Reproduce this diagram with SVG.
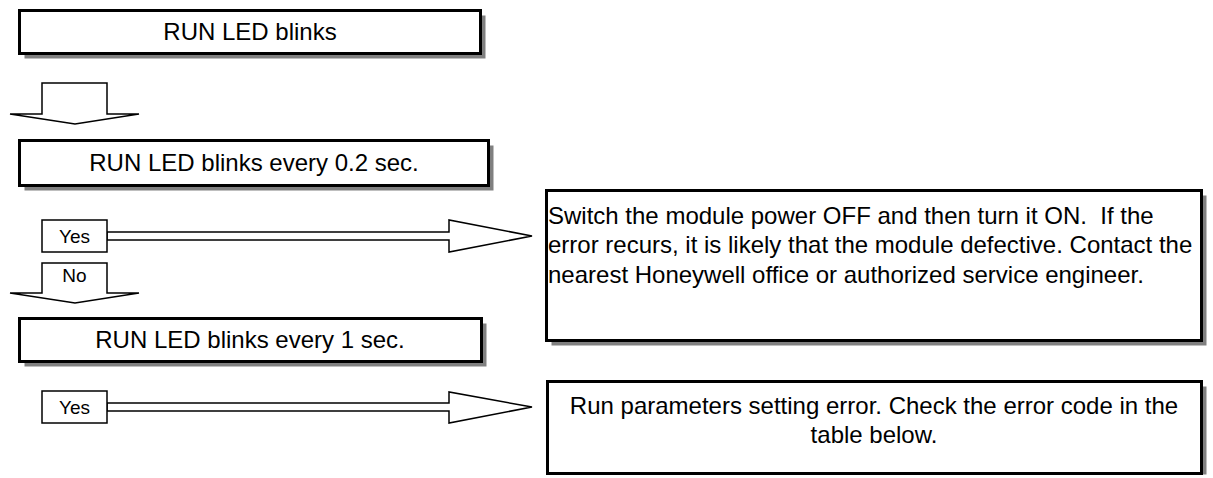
<svg xmlns="http://www.w3.org/2000/svg" width="1213" height="478" viewBox="0 0 1213 478">
<style>
.box{fill:#fff;stroke:#000;stroke-width:3}
.sh{fill:#808080}
.arr{fill:#fff;stroke:#000;stroke-width:1.5;stroke-linejoin:miter}
.lbl{fill:#fff;stroke:#000;stroke-width:1.5}
.t{font-family:"Liberation Sans",Arial,sans-serif;font-size:24px;fill:#000}
.s{font-family:"Liberation Sans",Arial,sans-serif;font-size:19px;fill:#000}
</style>
<rect width="1213" height="478" fill="#fff"/>
<g id="connectors">
<path class="arr" d="M42,83 H107 V114 H139 L75,124 L10,114 H42 Z"/>
<path class="arr" d="M42,263 H107 V293 H139 L75,303 L10,293 H42 Z"/>
<text class="s" x="74.5" y="282" text-anchor="middle">No</text>
<path class="arr" d="M107,232 H449 V220 L532,236 L449,252 V240 H107 Z"/>
<rect class="lbl" x="42" y="220" width="65" height="32"/>
<text class="s" x="74.5" y="243" text-anchor="middle">Yes</text>
<path class="arr" d="M107,403 H449 V392 L532,407 L449,423 V411 H107 Z"/>
<rect class="lbl" x="42" y="391" width="65" height="32"/>
<text class="s" x="74.5" y="414" text-anchor="middle">Yes</text>
</g>
<g id="node1">
<rect class="sh" x="24.5" y="15.5" width="461" height="43"/>
<rect class="box" x="19.5" y="10.5" width="461" height="43"/>
<text class="t" x="250" y="40" text-anchor="middle">RUN LED blinks</text>
</g>
<g id="node2">
<rect class="sh" x="24.5" y="145.5" width="469" height="45"/>
<rect class="box" x="19.5" y="140.5" width="469" height="45"/>
<text class="t" x="254" y="171" text-anchor="middle">RUN LED blinks every 0.2 sec.</text>
</g>
<g id="node3">
<rect class="sh" x="24.5" y="323.5" width="462" height="43"/>
<rect class="box" x="19.5" y="318.5" width="462" height="43"/>
<text class="t" x="250" y="348" text-anchor="middle">RUN LED blinks every 1 sec.</text>
</g>
<g id="node4">
<rect class="sh" x="551.5" y="195.5" width="655" height="150"/>
<rect class="box" x="546.5" y="190.5" width="655" height="150"/>
<text class="t" x="548" y="224" xml:space="preserve">Switch the module power OFF and then turn it ON.  If the</text>
<text class="t" x="548" y="253">error recurs, it is likely that the module defective. Contact the</text>
<text class="t" x="548" y="283">nearest Honeywell office or authorized service engineer.</text>
</g>
<g id="node5">
<rect class="sh" x="552.5" y="386.5" width="654" height="88"/>
<rect class="box" x="547.5" y="381.5" width="654" height="92"/>
<text class="t" x="874" y="414" text-anchor="middle">Run parameters setting error. Check the error code in the</text>
<text class="t" x="874" y="443" text-anchor="middle">table below.</text>
</g>
</svg>
